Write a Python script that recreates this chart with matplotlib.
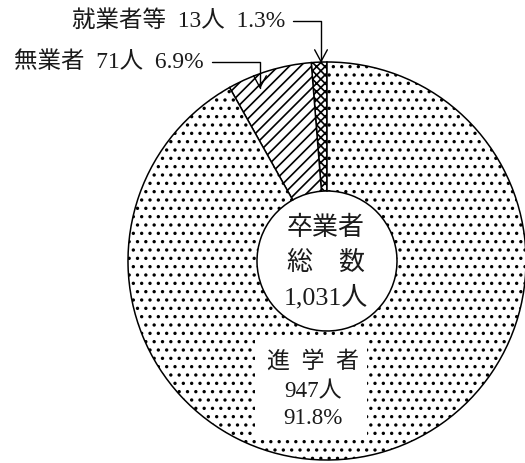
import matplotlib
matplotlib.use('Agg')
import matplotlib.pyplot as plt
from matplotlib.patches import Rectangle

# ---- data ----
categories = ['就業者等', '無業者', '進学者']
counts = [13, 71, 947]
percents = ['1.3%', '6.9%', '91.8%']
center_lines = ['卒業者', '総　数', '1,031人']
hatches = ['xxxx', '///', '..']

W, H, DPI = 525, 463, 100
PX = 72 / DPI  # points per pixel
FAM = ['Liberation Serif', 'Noto Sans CJK JP']
plt.rcParams['font.family'] = FAM
plt.rcParams['hatch.linewidth'] = 1.2
TXT = '#1a1a1a'

fig = plt.figure(figsize=(W / DPI, H / DPI), dpi=DPI)
ax = fig.add_axes([0, 0, 1, 1])


def py(y):
    return H - y


cx, cy, R, r_in = 327, py(261), 199, 70
wedges, _ = ax.pie(counts, startangle=90, counterclock=True, radius=R,
                   center=(cx, cy),
                   wedgeprops=dict(width=R - r_in, facecolor='white',
                                   edgecolor='black', linewidth=1.1))
for w, h in zip(wedges, hatches):
    w.set_hatch(h)

ax.set_xlim(0, W)
ax.set_ylim(0, H)
ax.set_aspect('equal')
ax.axis('off')

arrow = dict(arrowstyle='->,head_length=0.5,head_width=0.27',
             connectionstyle='angle,angleA=0,angleB=90,rad=0',
             relpos=(1, 0.5), shrinkA=4, shrinkB=0, lw=1.0, color='black')

LBL = 23.5 * PX
ax.annotate(f'{categories[0]}  {counts[0]}人  {percents[0]}',
            xy=(321, py(63)), xytext=(285, py(21)), ha='right', va='center',
            fontsize=LBL, color=TXT, arrowprops=arrow)
ax.annotate(f'{categories[1]}  {counts[1]}人  {percents[1]}',
            xy=(260, py(89)), xytext=(204, py(62)), ha='right', va='center',
            fontsize=LBL, color=TXT, arrowprops=arrow)

for t, y in zip(center_lines, [228, 263, 297]):
    ax.text(cx - 1, py(y), t, ha='center', va='center', fontsize=26 * PX,
            color=TXT)

ax.add_patch(Rectangle((255, py(437)), 112, 100, facecolor='white',
                       edgecolor='none', zorder=2))
box_lines = ['  '.join(categories[2]), f'{counts[2]}人', percents[2]]
for t, y in zip(box_lines, [362, 392, 419]):
    ax.text(313, py(y), t, ha='center', va='center', fontsize=23 * PX,
            color=TXT, zorder=3)

fig.savefig('out.png', dpi=DPI)
